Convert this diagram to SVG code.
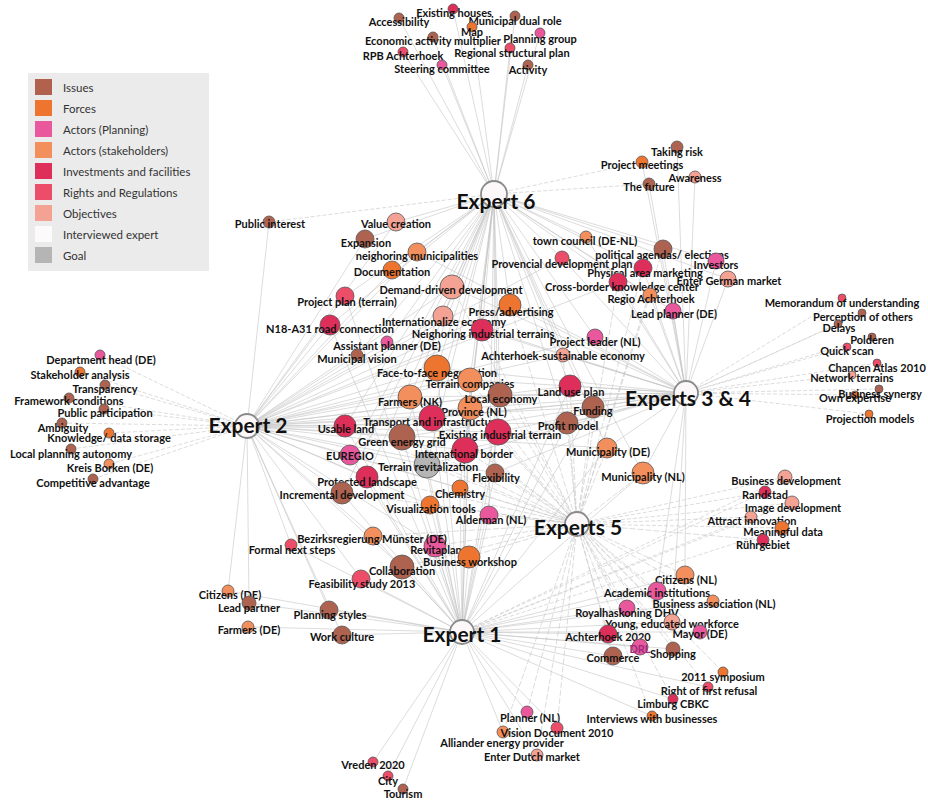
<svg xmlns="http://www.w3.org/2000/svg" width="928" height="802" viewBox="0 0 928 802">
<style>
.c{fill:none;stroke:#c4c4c4;stroke-width:0.6}
.cd{stroke-dasharray:4 2}
.cs{stroke-dasharray:6 2}
circle{stroke:#555;stroke-width:0.8}
.iss{fill:#ad6350}.frc{fill:#ee7530}.pln{fill:#e9589c}.stk{fill:#f28f5c}.inv{fill:#de2f5a}.rgt{fill:#ec4d68}.obj{fill:#f4a294}.goal{fill:#b5b5b5}
.exp{fill:#fcf8f9;stroke:#8a8a8a;stroke-width:1.8}
text{font-family:Lato,"Liberation Sans",sans-serif;font-weight:bold;font-size:11px;fill:#111;text-anchor:middle;dominant-baseline:central}
text.x{font-size:21px;dominant-baseline:auto}
.lg text{font-weight:normal;font-size:11.5px;fill:#333;text-anchor:start}
.lg rect.s{stroke:none}
</style>
<rect width="928" height="802" fill="#fff"/>
<g id="legend" class="lg">
<rect x="28" y="73" width="181" height="198" fill="#ebebeb"/>
<rect class="s" x="35" y="79" width="17" height="16" fill="#b0624f"/><text x="63" y="87">Issues</text>
<rect class="s" x="35" y="100" width="17" height="16" fill="#ee7530"/><text x="63" y="108">Forces</text>
<rect class="s" x="35" y="121" width="17" height="16" fill="#e9589c"/><text x="63" y="129">Actors (Planning)</text>
<rect class="s" x="35" y="142" width="17" height="16" fill="#f28f5c"/><text x="63" y="150">Actors (stakeholders)</text>
<rect class="s" x="35" y="163" width="17" height="16" fill="#de2f5a"/><text x="63" y="171">Investments and facilities</text>
<rect class="s" x="35" y="184" width="17" height="16" fill="#ec4d68"/><text x="63" y="192">Rights and Regulations</text>
<rect class="s" x="35" y="205" width="17" height="16" fill="#f4a294"/><text x="63" y="213">Objectives</text>
<rect class="s" x="35" y="226" width="17" height="16" fill="#fcfafa"/><text x="63" y="234">Interviewed expert</text>
<rect class="s" x="35" y="247" width="17" height="16" fill="#b5b5b5"/><text x="63" y="255">Goal</text>
</g>
<g id="connectors">
<path class="c" d="M453 9L494 194M399 18L494 194M515 16L494 194M472 27L494 194M433 37L494 194M540 33L494 194M403 52L494 194M510 48L494 194M442 65L494 194M528 65L494 194M396 222L494 194M365 239L494 194M417 252L494 194M392 270L494 194M452 287L494 194M345 296L494 194M510 305L494 194M443 316L494 194M330 325L494 194M482 330L494 194M387 342L494 194M357 355L494 194M586 237L494 194M663 249L494 194M716 261L494 194M562 258L494 194M643 268L494 194M728 279L494 194M618 282L494 194M650 295L494 194M673 311L494 194M595 337L494 194M563 355L494 194M570 386L494 194M593 407L494 194M567 423L494 194M437 368L494 194M470 380L494 194M410 397L494 194M500 395L494 194M470 408L494 194M432 418L494 194M345 426L494 194M498 432L494 194M402 437L494 194M350 455L494 194M465 450L494 194M427 465L494 194M495 473L494 194M367 477L494 194M342 493L494 194M460 488L494 194M489 515L494 194M607 448L494 194M643 473L494 194"/>
<path class="c" d="M269 222L247 426M396 222L247 426M365 239L247 426M417 252L247 426M392 270L247 426M452 287L247 426M345 296L247 426M510 305L247 426M443 316L247 426M330 325L247 426M482 330L247 426M387 342L247 426M357 355L247 426M562 258L247 426M618 282L247 426M595 337L247 426M563 355L247 426M570 386L247 426M593 407L247 426M567 423L247 426M437 368L247 426M470 380L247 426M410 397L247 426M500 395L247 426M470 408L247 426M432 418L247 426M345 426L247 426M498 432L247 426M402 437L247 426M350 455L247 426M465 450L247 426M427 465L247 426M495 473L247 426M367 477L247 426M342 493L247 426M460 488L247 426M430 505L247 426M607 448L247 426M373 536L247 426M291 545L247 426M435 546L247 426M402 567L247 426M361 579L247 426M228 591L247 426M249 603L247 426M329 610L247 426M342 635L247 426"/>
<path class="c" d="M677 147L686 393M695 177L686 393M649 184L686 393M642 162L686 393M417 252L686 393M452 287L686 393M510 305L686 393M443 316L686 393M482 330L686 393M586 237L686 393M663 249L686 393M716 261L686 393M562 258L686 393M643 268L686 393M728 279L686 393M618 282L686 393M650 295L686 393M673 311L686 393M595 337L686 393M563 355L686 393M570 386L686 393M593 407L686 393M567 423L686 393M437 368L686 393M470 380L686 393M410 397L686 393M500 395L686 393M470 408L686 393M432 418L686 393M345 426L686 393M498 432L686 393M402 437L686 393M465 450L686 393M427 465L686 393M495 473L686 393M607 448L686 393M643 473L686 393M685 575L686 393M657 591L686 393M672 622L686 393"/>
<path class="c cs" d="M452 287L577 524M510 305L577 524M482 330L577 524M663 249L577 524M643 268L577 524M618 282L577 524M650 295L577 524M563 355L577 524M570 386L577 524M593 407L577 524M567 423L577 524M437 368L577 524M470 380L577 524M410 397L577 524M500 395L577 524M470 408L577 524M432 418L577 524M345 426L577 524M498 432L577 524M402 437L577 524M350 455L577 524M465 450L577 524M427 465L577 524M495 473L577 524M367 477L577 524M342 493L577 524M460 488L577 524M430 505L577 524M489 515L577 524M607 448L577 524M643 473L577 524M373 536L577 524M435 546L577 524M469 557L577 524M402 567L577 524M685 575L577 524M657 591L577 524M713 601L577 524M627 608L577 524M672 622L577 524M700 632L577 524M608 634L577 524M640 647L577 524M673 649L577 524M613 656L577 524M723 672L577 524M708 687L577 524M673 699L577 524M652 716L577 524M527 712L577 524M557 728L577 524M503 732L577 524M537 755L577 524M763 540L577 524"/>
<path class="c" d="M345 296L462 632M330 325L462 632M570 386L462 632M593 407L462 632M567 423L462 632M437 368L462 632M470 380L462 632M410 397L462 632M500 395L462 632M470 408L462 632M432 418L462 632M345 426L462 632M498 432L462 632M402 437L462 632M350 455L462 632M465 450L462 632M427 465L462 632M495 473L462 632M367 477L462 632M342 493L462 632M460 488L462 632M430 505L462 632M489 515L462 632M607 448L462 632M643 473L462 632M373 536L462 632M291 545L462 632M435 546L462 632M469 557L462 632M402 567L462 632M361 579L462 632M228 591L462 632M249 603L462 632M329 610L462 632M248 627L462 632M342 635L462 632M685 575L462 632M657 591L462 632M713 601L462 632M627 608L462 632M672 622L462 632M700 632L462 632M608 634L462 632M640 647L462 632M673 649L462 632M613 656L462 632M708 687L462 632M673 699L462 632M652 716L462 632M527 712L462 632M557 728L462 632M503 732L462 632M537 755L462 632M373 762L462 632M388 776L462 632M403 789L462 632"/>
<path class="c cd" d="M269 222L494 194M642 162L494 194M649 184L494 194M100 355L247 426M80 372L247 426M105 385L247 426M69 398L247 426M104 409L247 426M62 423L247 426M109 433L247 426M71 449L247 426M109 464L247 426M93 479L247 426M842 298L686 393M862 313L686 393M838 324L686 393M872 337L686 393M847 347L686 393M877 363L686 393M852 375L686 393M879 389L686 393M855 395L686 393M869 414L686 393M785 477L577 524M765 492L577 524M792 503L577 524M751 517L577 524M782 528L577 524M785 477L462 632M765 492L462 632M792 503L462 632M751 517L462 632M782 528L462 632"/>
</g>
<g id="n-accessibility"><circle class="iss" cx="399" cy="18" r="5"/><text x="399" y="21">Accessibility</text></g>
<g id="n-existing-houses"><circle class="inv" cx="453" cy="9" r="5"/><text x="454" y="12">Existing houses</text></g>
<g id="n-municipal-dual-role"><circle class="iss" cx="515" cy="16" r="5"/><text x="515" y="20">Municipal dual role</text></g>
<g id="n-map"><circle class="frc" cx="472" cy="27" r="5"/><text x="472" y="31">Map</text></g>
<g id="n-economic-activity-multiplier"><circle class="iss" cx="433" cy="37" r="5"/><text x="433" y="40">Economic activity multiplier</text></g>
<g id="n-planning-group"><circle class="pln" cx="540" cy="33" r="5"/><text x="540" y="38">Planning group</text></g>
<g id="n-rpb-achterhoek"><circle class="rgt" cx="403" cy="52" r="5"/><text x="403" y="55">RPB Achterhoek</text></g>
<g id="n-regional-structural-plan"><circle class="rgt" cx="510" cy="48" r="5"/><text x="512" y="52">Regional structural plan</text></g>
<g id="n-steering-committee"><circle class="pln" cx="442" cy="65" r="5"/><text x="442" y="68">Steering committee</text></g>
<g id="n-activity"><circle class="iss" cx="528" cy="65" r="5"/><text x="528" y="69">Activity</text></g>
<g id="n-taking-risk"><circle class="iss" cx="677" cy="147" r="6"/><text x="677" y="151">Taking risk</text></g>
<g id="n-project-meetings"><circle class="frc" cx="642" cy="162" r="6"/><text x="642" y="164">Project meetings</text></g>
<g id="n-awareness"><circle class="obj" cx="695" cy="177" r="6"/><text x="695" y="177">Awareness</text></g>
<g id="n-the-future"><circle class="iss" cx="649" cy="184" r="6"/><text x="649" y="186">The future</text></g>
<g id="n-town-council"><circle class="stk" cx="586" cy="237" r="6"/><text x="585" y="240">town council (DE-NL)</text></g>
<g id="n-political-agendas"><circle class="iss" cx="663" cy="249" r="9"/><text x="662" y="254">political agendas/ elections</text></g>
<g id="n-investors"><circle class="pln" cx="716" cy="261" r="8"/><text x="716" y="264">Investors</text></g>
<g id="n-provencial-development-plan"><circle class="rgt" cx="562" cy="258" r="7"/><text x="562" y="263">Provencial development plan</text></g>
<g id="n-physical-area-marketing"><circle class="inv" cx="643" cy="268" r="9"/><text x="645" y="272">Physical area marketing</text></g>
<g id="n-enter-german-market"><circle class="obj" cx="728" cy="279" r="8"/><text x="729" y="280">Enter German market</text></g>
<g id="n-cross-border-knowledge-center"><circle class="inv" cx="618" cy="282" r="9"/><text x="622" y="286">Cross-border knowledge center</text></g>
<g id="n-regio-achterhoek"><circle class="stk" cx="650" cy="295" r="7"/><text x="651" y="298">Regio Achterhoek</text></g>
<g id="n-lead-planner"><circle class="pln" cx="673" cy="311" r="8"/><text x="674" y="313">Lead planner (DE)</text></g>
<g id="n-memorandum"><circle class="rgt" cx="842" cy="298" r="4"/><text x="842" y="302">Memorandum of understanding</text></g>
<g id="n-perception-of-others"><circle class="iss" cx="862" cy="313" r="4"/><text x="863" y="316">Perception of others</text></g>
<g id="n-delays"><circle class="iss" cx="838" cy="324" r="4"/><text x="839" y="327">Delays</text></g>
<g id="n-polderen"><circle class="iss" cx="872" cy="337" r="4"/><text x="872" y="339">Polderen</text></g>
<g id="n-quick-scan"><circle class="rgt" cx="847" cy="347" r="4"/><text x="847" y="350">Quick scan</text></g>
<g id="n-chancen-atlas"><circle class="rgt" cx="877" cy="363" r="4"/><text x="877" y="367">Chancen Atlas 2010</text></g>
<g id="n-network-terrains"><circle class="obj" cx="852" cy="375" r="4"/><text x="852" y="377">Network terrains</text></g>
<g id="n-own-expertise"><circle class="frc" cx="855" cy="395" r="4"/><text x="855" y="397">Own expertise</text></g>
<g id="n-business-synergy"><circle class="iss" cx="879" cy="389" r="4"/><text x="880" y="393">Business synergy</text></g>
<g id="n-projection-models"><circle class="frc" cx="869" cy="414" r="4"/><text x="870" y="418">Projection models</text></g>
<g id="n-project-leader"><circle class="pln" cx="595" cy="337" r="8"/><text x="595" y="341">Project leader (NL)</text></g>
<g id="n-achterhoek-sustainable-economy"><circle class="obj" cx="563" cy="355" r="7"/><text x="563" y="355">Achterhoek-sustainable economy</text></g>
<g id="n-land-use-plan"><circle class="inv" cx="570" cy="386" r="11"/><text x="571" y="391">Land use plan</text></g>
<g id="n-funding"><circle class="iss" cx="593" cy="407" r="11"/><text x="593" y="410">Funding</text></g>
<g id="n-profit-model"><circle class="iss" cx="567" cy="423" r="11"/><text x="568" y="425">Profit model</text></g>
<g id="n-municipality-de"><circle class="stk" cx="607" cy="448" r="10"/><text x="608" y="451">Municipality (DE)</text></g>
<g id="n-municipality-nl"><circle class="stk" cx="643" cy="473" r="11"/><text x="643" y="476">Municipality (NL)</text></g>
<g id="n-public-interest"><circle class="iss" cx="269" cy="222" r="6"/><text x="270" y="223">Public interest</text></g>
<g id="n-value-creation"><circle class="obj" cx="396" cy="222" r="9"/><text x="396" y="223">Value creation</text></g>
<g id="n-expansion"><circle class="iss" cx="365" cy="239" r="9"/><text x="366" y="242">Expansion</text></g>
<g id="n-neighoring-municipalities"><circle class="stk" cx="417" cy="252" r="9"/><text x="417" y="255">neighoring municipalities</text></g>
<g id="n-documentation"><circle class="frc" cx="392" cy="270" r="9"/><text x="392" y="271">Documentation</text></g>
<g id="n-demand-driven-development"><circle class="obj" cx="452" cy="287" r="12"/><text x="451" y="289">Demand-driven development</text></g>
<g id="n-project-plan"><circle class="rgt" cx="345" cy="296" r="9"/><text x="347" y="301">Project plan (terrain)</text></g>
<g id="n-press-advertising"><circle class="frc" cx="510" cy="305" r="11"/><text x="511" y="311">Press/advertising</text></g>
<g id="n-internationalize-economy"><circle class="obj" cx="443" cy="316" r="10"/><text x="444" y="321">Internationalize economy</text></g>
<g id="n-n18-a31"><circle class="inv" cx="330" cy="325" r="10"/><text x="330" y="328">N18-A31 road connection</text></g>
<g id="n-neighoring-industrial-terrains"><circle class="inv" cx="482" cy="330" r="11"/><text x="483" y="333">Neighoring industrial terrains</text></g>
<g id="n-assistant-planner"><circle class="pln" cx="387" cy="342" r="6"/><text x="387" y="345">Assistant planner (DE)</text></g>
<g id="n-municipal-vision"><circle class="iss" cx="357" cy="355" r="6"/><text x="357" y="358">Municipal vision</text></g>
<g id="n-face-to-face"><circle class="frc" cx="437" cy="368" r="13"/><text x="437" y="372">Face-to-face negotiation</text></g>
<g id="n-terrain-companies"><circle class="stk" cx="470" cy="380" r="12"/><text x="470" y="383">Terrain companies</text></g>
<g id="n-province"><circle class="stk" cx="470" cy="408" r="12"/><text x="474" y="411">Province (NL)</text></g>
<g id="n-local-economy"><circle class="iss" cx="500" cy="395" r="12"/><text x="501" y="398">Local economy</text></g>
<g id="n-farmers-nk"><circle class="stk" cx="410" cy="397" r="12"/><text x="410" y="401">Farmers (NK)</text></g>
<g id="n-transport"><circle class="inv" cx="432" cy="418" r="13"/><text x="432" y="421">Transport and infrastructure</text></g>
<g id="n-usable-land"><circle class="inv" cx="345" cy="426" r="11"/><text x="346" y="428">Usable land</text></g>
<g id="n-existing-industrial-terrain"><circle class="inv" cx="498" cy="432" r="13"/><text x="500" y="434">Existing industrial terrain</text></g>
<g id="n-green-energy-grid"><circle class="iss" cx="402" cy="437" r="13"/><text x="402" y="441">Green energy grid</text></g>
<g id="n-euregio"><circle class="pln" cx="350" cy="455" r="10"/><text x="350" y="455">EUREGIO</text></g>
<g id="n-terrain-revitalization"><circle class="goal" cx="427" cy="465" r="13"/><text x="428" y="466">Terrain revitalization</text></g>
<g id="n-international-border"><circle class="inv" cx="465" cy="450" r="13"/><text x="464" y="453">International border</text></g>
<g id="n-flexibility"><circle class="iss" cx="495" cy="473" r="9"/><text x="496" y="477">Flexibility</text></g>
<g id="n-protected-landscape"><circle class="inv" cx="367" cy="477" r="11"/><text x="367" y="481">Protected landscape</text></g>
<g id="n-incremental-development"><circle class="iss" cx="342" cy="493" r="11"/><text x="342" y="494">Incremental development</text></g>
<g id="n-chemistry"><circle class="frc" cx="460" cy="488" r="8"/><text x="460" y="493">Chemistry</text></g>
<g id="n-visualization-tools"><circle class="frc" cx="430" cy="505" r="9"/><text x="431" y="508">Visualization tools</text></g>
<g id="n-alderman"><circle class="pln" cx="489" cy="515" r="9"/><text x="491" y="519">Alderman (NL)</text></g>
<g id="n-formal-next-steps"><circle class="rgt" cx="291" cy="545" r="6"/><text x="292" y="549">Formal next steps</text></g>
<g id="n-revitaplan"><circle class="pln" cx="435" cy="546" r="11"/><text x="436" y="549">Revitaplan</text></g>
<g id="n-bezirksregierung"><circle class="stk" cx="373" cy="536" r="9"/><text x="372" y="538">Bezirksregierung Münster (DE)</text></g>
<g id="n-business-workshop"><circle class="frc" cx="469" cy="557" r="11"/><text x="470" y="561">Business workshop</text></g>
<g id="n-collaboration"><circle class="iss" cx="402" cy="567" r="12"/><text x="402" y="570">Collaboration</text></g>
<g id="n-feasibility-study"><circle class="rgt" cx="361" cy="579" r="9"/><text x="362" y="583">Feasibility study 2013</text></g>
<g id="n-citizens-de"><circle class="stk" cx="228" cy="591" r="6"/><text x="230" y="594">Citizens (DE)</text></g>
<g id="n-lead-partner"><circle class="iss" cx="249" cy="603" r="7"/><text x="249" y="607">Lead partner</text></g>
<g id="n-planning-styles"><circle class="iss" cx="329" cy="610" r="9"/><text x="330" y="614">Planning styles</text></g>
<g id="n-farmers-de"><circle class="stk" cx="248" cy="627" r="6"/><text x="249" y="629">Farmers (DE)</text></g>
<g id="n-work-culture"><circle class="iss" cx="342" cy="635" r="9"/><text x="342" y="636">Work culture</text></g>
<g id="n-department-head"><circle class="pln" cx="100" cy="355" r="5"/><text x="101" y="359">Department head (DE)</text></g>
<g id="n-stakeholder-analysis"><circle class="frc" cx="80" cy="372" r="5"/><text x="80" y="374">Stakeholder analysis</text></g>
<g id="n-transparency"><circle class="iss" cx="105" cy="385" r="5"/><text x="105" y="388">Transparency</text></g>
<g id="n-framework-conditions"><circle class="iss" cx="69" cy="398" r="5"/><text x="69" y="400">Framework conditions</text></g>
<g id="n-public-participation"><circle class="iss" cx="104" cy="409" r="5"/><text x="105" y="412">Public participation</text></g>
<g id="n-ambiguity"><circle class="iss" cx="62" cy="423" r="5"/><text x="63" y="427">Ambiguity</text></g>
<g id="n-knowledge-data-storage"><circle class="frc" cx="109" cy="433" r="5"/><text x="109" y="437">Knowledge/ data storage</text></g>
<g id="n-local-planning-autonomy"><circle class="iss" cx="71" cy="449" r="5"/><text x="71" y="453">Local planning autonomy</text></g>
<g id="n-kreis-borken"><circle class="stk" cx="109" cy="464" r="5"/><text x="110" y="467">Kreis Borken (DE)</text></g>
<g id="n-competitive-advantage"><circle class="iss" cx="93" cy="479" r="5"/><text x="93" y="482">Competitive advantage</text></g>
<g id="n-business-development"><circle class="obj" cx="785" cy="477" r="7"/><text x="786" y="480">Business development</text></g>
<g id="n-randstad"><circle class="inv" cx="765" cy="492" r="6"/><text x="765" y="494">Randstad</text></g>
<g id="n-image-development"><circle class="obj" cx="792" cy="503" r="7"/><text x="793" y="507">Image development</text></g>
<g id="n-attract-innovation"><circle class="obj" cx="751" cy="517" r="6"/><text x="752" y="520">Attract innovation</text></g>
<g id="n-meaningful-data"><circle class="frc" cx="782" cy="528" r="7"/><text x="783" y="531">Meaningful data</text></g>
<g id="n-ruhrgebiet"><circle class="inv" cx="763" cy="540" r="6"/><text x="763" y="544">Rührgebiet</text></g>
<g id="n-citizens-nl"><circle class="stk" cx="685" cy="575" r="9"/><text x="686" y="579">Citizens (NL)</text></g>
<g id="n-academic-institutions"><circle class="pln" cx="657" cy="591" r="9"/><text x="657" y="592">Academic institutions</text></g>
<g id="n-business-association"><circle class="stk" cx="713" cy="601" r="6"/><text x="714" y="603">Business association (NL)</text></g>
<g id="n-royalhaskoning"><circle class="pln" cx="627" cy="608" r="8"/><text x="627" y="612">Royalhaskoning DHV</text></g>
<g id="n-young-educated-workforce"><circle class="obj" cx="672" cy="622" r="8"/><text x="672" y="623">Young, educated workforce</text></g>
<g id="n-mayor-de"><circle class="pln" cx="700" cy="632" r="7"/><text x="700" y="633">Mayor (DE)</text></g>
<g id="n-achterhoek-2020"><circle class="inv" cx="608" cy="634" r="9"/><text x="608" y="636">Achterhoek 2020</text></g>
<g id="n-shopping"><circle class="iss" cx="673" cy="649" r="7"/><text x="673" y="653">Shopping</text></g>
<g id="n-commerce"><circle class="iss" cx="613" cy="656" r="9"/><text x="613" y="657">Commerce</text></g>
<g id="n-drl"><circle class="pln" cx="640" cy="647" r="8"/><text x="640" y="648" style="fill:#9c2a7c">DRL</text></g>
<g id="n-2011-symposium"><circle class="frc" cx="723" cy="672" r="5"/><text x="723" y="676">2011 symposium</text></g>
<g id="n-right-of-first-refusal"><circle class="rgt" cx="708" cy="687" r="5"/><text x="709" y="690">Right of first refusal</text></g>
<g id="n-limburg-cbkc"><circle class="inv" cx="673" cy="699" r="5"/><text x="673" y="703">Limburg CBKC</text></g>
<g id="n-interviews-with-businesses"><circle class="frc" cx="652" cy="716" r="5"/><text x="652" y="718">Interviews with businesses</text></g>
<g id="n-planner-nl"><circle class="pln" cx="527" cy="712" r="6"/><text x="530" y="717">Planner (NL)</text></g>
<g id="n-alliander"><circle class="stk" cx="503" cy="732" r="6"/><text x="502" y="742">Alliander energy provider</text></g>
<g id="n-vision-document"><circle class="rgt" cx="557" cy="728" r="6"/><text x="557" y="732">Vision Document 2010</text></g>
<g id="n-enter-dutch-market"><circle class="obj" cx="537" cy="755" r="6"/><text x="532" y="756">Enter Dutch market</text></g>
<g id="n-vreden-2020"><circle class="rgt" cx="373" cy="762" r="5"/><text x="373" y="764">Vreden 2020</text></g>
<g id="n-city"><circle class="rgt" cx="388" cy="776" r="5"/><text x="388" y="780">City</text></g>
<g id="n-tourism"><circle class="iss" cx="403" cy="789" r="5"/><text x="403" y="793">Tourism</text></g>
<g id="n-expert-6"><circle class="exp" cx="494" cy="194" r="13"/><text class="x" x="496" y="209">Expert 6</text></g>
<g id="n-expert-2"><circle class="exp" cx="247" cy="426" r="12"/><text class="x" x="248" y="433">Expert 2</text></g>
<g id="n-experts-3-4"><circle class="exp" cx="686" cy="393" r="12"/><text class="x" x="688" y="406">Experts 3 &amp; 4</text></g>
<g id="n-experts-5"><circle class="exp" cx="577" cy="524" r="12"/><text class="x" x="578" y="535">Experts 5</text></g>
<g id="n-expert-1"><circle class="exp" cx="462" cy="632" r="12"/><text class="x" x="462" y="642">Expert 1</text></g>
</svg>
